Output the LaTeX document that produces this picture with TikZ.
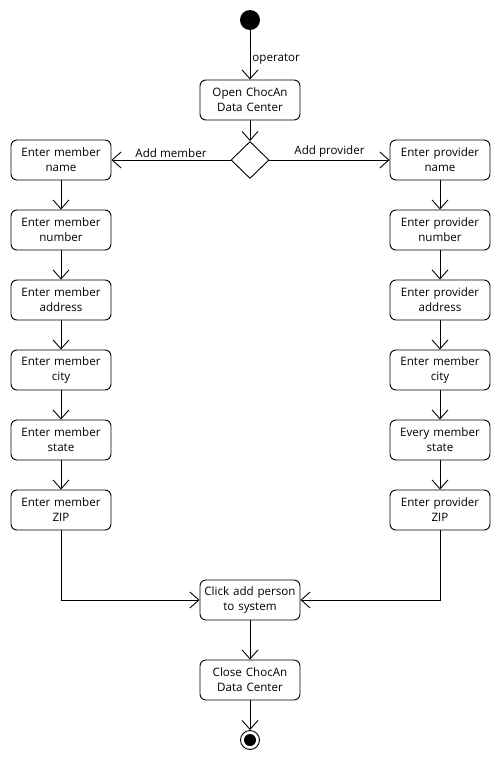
\documentclass[tikz,border=0pt]{standalone}
\usepackage{fontspec}
\setmainfont{Open Sans}
\usetikzlibrary{arrows.meta,shapes.geometric}
\begin{document}
\begin{tikzpicture}[x=1pt,y=-1pt,
  every node/.style={font=\fontsize{11.6}{15}\selectfont},
  act/.style={draw,line width=0.9pt,rounded corners=6pt,minimum width=100pt,minimum height=40pt,inner sep=0pt,align=center,text width=100pt},
  flow/.style={draw,line width=0.9pt,-{Straight Barb[length=9pt,width=16pt,line width=0.9pt]}},
  lbl/.style={inner sep=2pt}]
\useasboundingbox (0,0) rectangle (500,760);
\node[circle,fill=black,minimum size=20pt,inner sep=0pt] (start) at (250,20) {};
\node[act] (open) at (250,100) {Open ChocAn\\Data Center};
\node[diamond,draw,line width=0.9pt,minimum width=38pt,minimum height=37pt,inner sep=0pt] (dec) at (250,160) {};
\node[act] (m1) at (61,160) {Enter member\\name};
\node[act] (m2) at (61,230) {Enter member\\number};
\node[act] (m3) at (61,300) {Enter member\\address};
\node[act] (m4) at (61,370) {Enter member\\city};
\node[act] (m5) at (61,440) {Enter member\\state};
\node[act] (m6) at (61,510) {Enter member\\ZIP};
\node[act] (p1) at (440,160) {Enter provider\\name};
\node[act] (p2) at (440,230) {Enter provider\\number};
\node[act] (p3) at (440,300) {Enter provider\\address};
\node[act] (p4) at (440,370) {Enter member\\city};
\node[act] (p5) at (440,440) {Every member\\state};
\node[act] (p6) at (440,510) {Enter provider\\ZIP};
\node[act] (click) at (250,600) {Click add person\\to system};
\node[act] (close) at (250,680) {Close ChocAn\\Data Center};
\node[circle,draw,line width=0.9pt,minimum size=19pt,inner sep=0pt] (end) at (250,740) {};
\node[circle,fill=black,minimum size=12pt,inner sep=0pt] (endin) at (250,740) {};
\draw[flow] (start) -- node[lbl,right,pos=0.58] {operator} (open);
\draw[flow] (open) -- (dec);
\draw[flow] (dec) -- node[lbl,above,pos=0.5] {Add member} (m1);
\draw[flow] (dec) -- node[lbl,above,pos=0.5] {Add provider} (p1);
\draw[flow] (m1) -- (m2);
\draw[flow] (m2) -- (m3);
\draw[flow] (m3) -- (m4);
\draw[flow] (m4) -- (m5);
\draw[flow] (m5) -- (m6);
\draw[flow] (p1) -- (p2);
\draw[flow] (p2) -- (p3);
\draw[flow] (p3) -- (p4);
\draw[flow] (p4) -- (p5);
\draw[flow] (p5) -- (p6);
\draw[flow] (m6) |- (click);
\draw[flow] (p6) |- (click);
\draw[flow] (click) -- (close);
\draw[flow] (close) -- (end);
\end{tikzpicture}
\end{document}
